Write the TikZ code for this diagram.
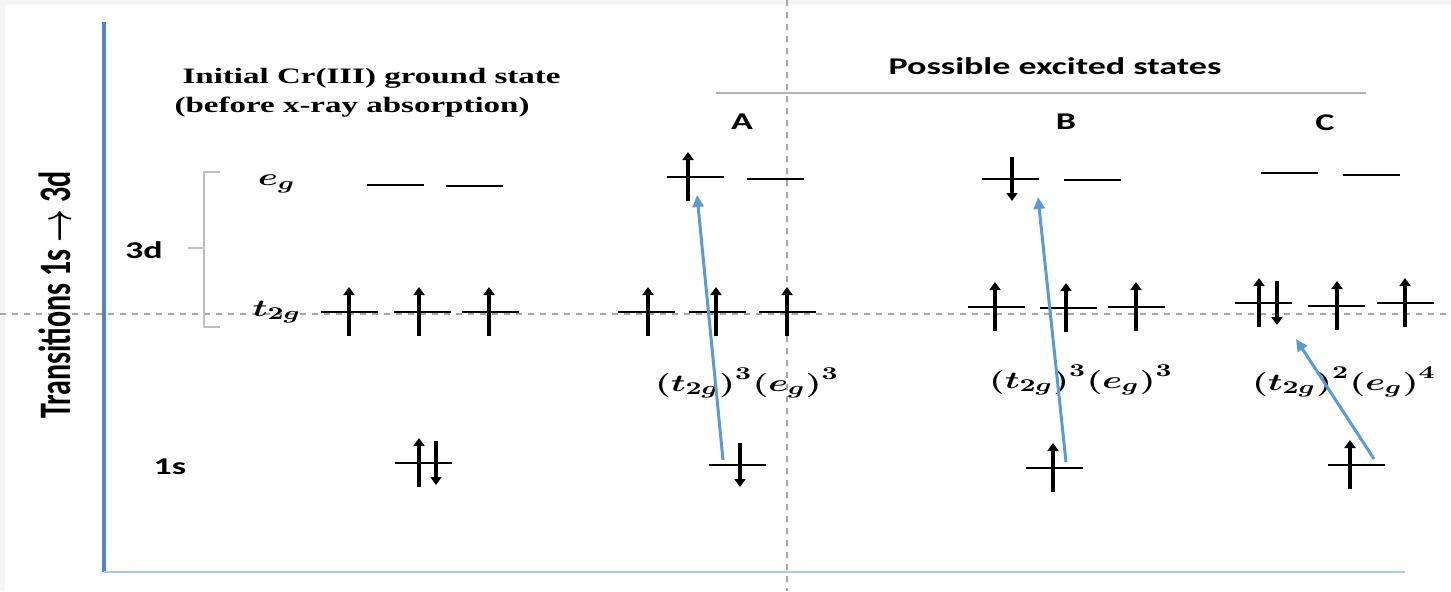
\documentclass[tikz,border=0pt]{standalone}
\usepackage{fontspec}
\usepackage{bm}
\setsansfont{Carlito}
\newfontfamily\titlefont{Liberation Serif}
\usetikzlibrary{arrows.meta, calc, positioning}
\definecolor{axisblue}{RGB}{79,134,198}
\definecolor{lightaxis}{RGB}{170,203,235}
\definecolor{excblue}{RGB}{91,155,213}

\tikzset{
  level/.style={line width=1.4pt},
  spin/.style={line width=1.9pt, -{Triangle[width=5.5pt,length=4pt]}},
  excite/.style={excblue, line width=1.5pt, -{Triangle[width=5.5pt,length=6pt]}},
  guide/.style={gray!70, line width=0.7pt, dash pattern=on 3pt off 3pt},
  wide/.style={xscale=1.5, inner sep=0pt},
  lbl/.style={wide, font=\sffamily\bfseries\fontsize{12}{14}\selectfont},
  mlbl/.style={wide, font=\fontsize{13}{15}\selectfont},
  titletext/.style={wide, font=\titlefont\bfseries\fontsize{11}{13}\selectfont},
}

% one orbital level: name, x, y
\newcommand{\orb}[3]{\coordinate (#1) at (#2,#3);
  \draw[level] ($(#1)+(-28.5,0)$) -- ($(#1)+(28.5,0)$);}
\newcommand{\spinup}[2]{\draw[spin] ($(#1)+(#2,24)$) -- ($(#1)+(#2,-25)$);}
\newcommand{\spindn}[2]{\draw[spin] ($(#1)+(#2,-22)$) -- ($(#1)+(#2,22)$);}

\begin{document}
\begin{tikzpicture}[x=0.5pt, y=-0.5pt]
  \useasboundingbox (0,0) rectangle (1451,591);
  \fill[gray!8] (0,0) rectangle (1451,591);
  \fill[white] (5,5) rectangle (1451,591);

  % guides
  \draw[guide] (787,0) -- (787,591);
  \draw[guide] (0,314) -- (1451,314);

  % axes
  \draw[axisblue, line width=2pt] (104,22) -- (104,572);
  \draw[lightaxis, line width=1.2pt] (104,572) -- (1405,572);
  \node[wide, rotate=90, font=\sffamily\bfseries\fontsize{15}{17}\selectfont] (trans) at (55,295) {Transitions 1s $\boldsymbol{\rightarrow}$ 3d};

  % headings
  \node[titletext, anchor=base west] (init1) at (182,83) {Initial Cr(III) ground state};
  \node[titletext, anchor=base west] (init2) at (174,112) {(before x-ray absorption)};
  \node[lbl] (poss) at (1055,66) {Possible excited states};
  \draw[gray!60, line width=1.2pt] (716,93) -- (1366,93);
  \node[lbl] (colA) at (742,122) {A};
  \node[lbl] (colB) at (1066,122) {B};
  \node[lbl] (colC) at (1325,123) {C};

  % shell labels
  \node[lbl] (d3) at (144,250) {3d};
  \node[lbl] (s1) at (170,467) {1s};
  \draw[gray!50, line width=1pt] (220,172) -- (204,172) -- (204,327) -- (220,327);
  \draw[gray!50, line width=1pt] (204,248) -- (188,248);
  \node[mlbl] (eg) at (277,184) {$\bm{e_g}$};
  \node[mlbl] (t2g) at (277,312) {$\bm{t_{2g}}$};

  % levels
  \foreach \n/\x/\y in {Geg1/395/185, Geg2/474/186, Gt1/349/312, Gt2/422/312, Gt3/490/312, G1s/423/463,
      Aeg1/695/177, Aeg2/775/179, At1/646/312, At2/717/312, At3/787/312, A1s/737/465,
      Beg1/1010/179, Beg2/1092/180, Bt1/996/307, Bt2/1068/308, Bt3/1136/307, B1s/1054/468,
      Ceg1/1289/173, Ceg2/1371/175, Ct1/1263/303, Ct2/1336/306, Ct3/1405/303, C1s/1356/465}
    \orb{\n}{\x}{\y};

  % electrons
  \foreach \n/\dx in {Gt1/0, Gt2/-3, Gt3/-1, G1s/-4, Aeg1/-7, At1/2, At2/-1, At3/0,
      Bt1/-1, Bt2/-2, Bt3/0, B1s/-1, Ct1/-4, Ct2/1, Ct3/0, C1s/-6}
    \spinup{\n}{\dx};
  \foreach \n/\dx in {G1s/13, A1s/3, Beg1/2, Ct1/14}
    \spindn{\n}{\dx};

  % configurations
  \node[mlbl] (cfgA) at (747,383) {$\bm{(t_{2g})^3(e_g)^3}$};
  \node[mlbl] (cfgB) at (1081,380) {$\bm{(t_{2g})^3(e_g)^3}$};
  \node[mlbl] (cfgC) at (1344,382) {$\bm{(t_{2g})^2(e_g)^4}$};

  % 1s -> 3d excitations
  \draw[excite] ($(A1s)+(-14,-5)$) -- ($(Aeg1)+(2,18)$);
  \draw[excite] ($(B1s)+(12,-6)$) -- ($(Beg1)+(28,18)$);
  \draw[excite] ($(C1s)+(18,-6)$) -- ($(Ct1)+(33,36)$);
\end{tikzpicture}
\end{document}
